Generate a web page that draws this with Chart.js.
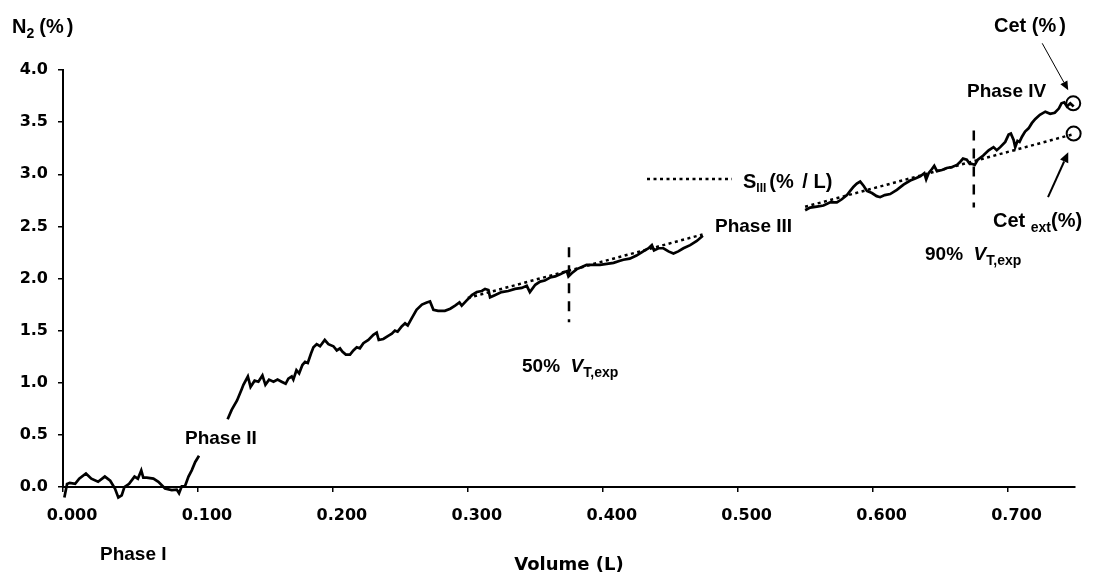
<!DOCTYPE html>
<html>
<head>
<meta charset="utf-8">
<script src="https://cdn.jsdelivr.net/npm/chart.js@4.4.1/dist/chart.umd.min.js"></script>
<style>
  html, body { margin: 0; padding: 0; background: #fff; }
  #wrap { width: 1094px; height: 578px; }
</style>
</head>
<body>
<div id="wrap"><canvas id="c" width="1094" height="578"></canvas></div>
<script>
// ---- Data (Volume in L, N2 in %) ----
const volumeL = [
  0.001,0.003,0.005,0.009,0.012,0.017,0.021,0.026,0.031,0.035,0.0385,0.041,0.0435,0.0455,0.049,0.053,0.0555,0.058,0.0595,0.062,
  0.067,0.0707,0.0756,0.0806,0.0843,0.086,0.088,0.0904,0.093,0.0954,0.098,0.1008,
  null,
  0.122,0.125,0.129,0.1325,0.1337,0.137,0.139,0.142,0.1448,0.1478,0.150,0.1527,0.156,0.159,0.162,0.165,0.167,0.1695,0.1707,0.173,
  0.175,0.1774,0.1794,0.1814,0.1838,0.1856,0.188,0.1905,0.194,0.1967,0.2004,0.2029,0.2053,0.207,0.2096,0.2127,0.2152,0.2177,0.220,
  0.2226,0.2263,0.230,0.2325,0.234,0.2374,0.241,0.2437,0.246,0.248,0.251,0.2535,0.2555,0.2585,0.262,0.266,0.2696,0.272,0.2745,
  0.278,0.283,0.287,0.2906,0.2938,0.2955,0.2992,0.303,0.3067,0.3104,0.3128,0.3153,0.3165,0.320,0.325,0.330,0.335,0.340,0.3437,
  0.346,0.350,0.3536,0.357,0.361,0.3647,0.3684,0.3714,0.3734,0.3746,0.377,0.3808,0.3845,0.388,0.393,0.398,0.403,0.408,0.4128,
  0.4153,0.420,0.425,0.430,0.434,0.4364,0.438,0.4413,0.445,0.4487,0.4524,0.456,0.4598,0.4648,0.4697,0.4742,
  null,
  0.550,0.5537,0.5587,0.5636,0.5686,0.5735,0.5772,0.581,0.5834,0.5859,0.5883,0.5908,0.5933,0.5958,0.5995,0.603,0.6056,0.609,
  0.613,0.618,0.6229,0.6279,0.6316,0.6353,0.6383,0.6397,0.6415,0.644,0.6457,0.6477,0.6514,0.655,0.659,0.6625,0.665,0.667,
  0.6698,0.672,0.6733,0.6757,0.678,0.682,0.686,0.6896,0.692,0.6946,0.6983,0.7008,0.7025,0.7045,0.7057,0.7074,0.7089,0.7107,
  0.713,0.7156,0.718,0.7206,0.724,0.728,0.7316,0.735,0.738,0.740,0.742,0.744,0.7465,0.749
];
const n2Pct = [
  -0.10,0.03,0.04,0.03,0.08,0.13,0.08,0.05,0.10,0.06,-0.015,-0.10,-0.08,0.0,0.03,0.10,0.08,0.16,0.09,0.09,
  0.08,0.05,-0.015,-0.03,-0.025,-0.06,0.007,0.007,0.10,0.16,0.24,0.30,
  null,
  0.65,0.74,0.83,0.94,0.98,1.06,0.96,1.02,1.01,1.07,0.98,1.03,1.01,1.03,1.01,0.99,1.04,1.06,1.03,1.12,
  1.09,1.17,1.20,1.19,1.28,1.34,1.37,1.35,1.41,1.37,1.35,1.31,1.33,1.30,1.27,1.27,1.31,1.34,1.33,
  1.38,1.41,1.46,1.48,1.41,1.42,1.45,1.47,1.50,1.49,1.54,1.57,1.55,1.62,1.70,1.75,1.77,1.78,1.70,
  1.69,1.69,1.71,1.74,1.77,1.74,1.79,1.84,1.87,1.88,1.90,1.89,1.82,1.84,1.87,1.88,1.90,1.91,1.93,
  1.87,1.94,1.97,1.98,2.01,2.02,2.04,2.06,2.07,2.02,2.05,2.09,2.11,2.13,2.13,2.13,2.14,2.15,2.17,
  2.18,2.19,2.22,2.26,2.29,2.32,2.27,2.29,2.29,2.26,2.24,2.26,2.29,2.32,2.36,2.41,
  null,
  2.655,2.68,2.69,2.70,2.73,2.73,2.76,2.80,2.84,2.88,2.91,2.93,2.89,2.84,2.82,2.79,2.78,2.80,
  2.81,2.85,2.90,2.94,2.96,2.98,3.01,2.95,3.01,3.05,3.08,3.03,3.04,3.06,3.07,3.09,3.12,3.15,
  3.14,3.10,3.10,3.09,3.14,3.18,3.23,3.26,3.23,3.26,3.31,3.38,3.39,3.33,3.26,3.32,3.31,3.36,
  3.41,3.44,3.49,3.53,3.57,3.60,3.58,3.59,3.63,3.68,3.69,3.65,3.68,3.65
];
// Phase III regression line (S_III), hidden behind the "Phase III" label
const slopeLineVol = [0.300, 0.474, null, 0.550, 0.749];
const slopeLineN2  = [1.813, 2.422, null, 2.688, 3.385];
// 50% and 90% of expired tidal volume markers
const vt50Vol = [0.375, 0.375]; const vt50N2 = [2.30, 1.58];
const vt90Vol = [0.675, 0.675]; const vt90N2 = [3.42, 2.68];
// End-tidal concentration markers
const cetVol = [0.7487]; const cetN2 = [3.68];
const cetExtVol = [0.749]; const cetExtN2 = [3.39];
// Axis ticks
const xTickStep = 0.1, xMax = 0.75;
const yTickStep = 0.5, yMax = 4.0;

const pts = (xs, ys) => xs.map((v, i) => ({ x: v, y: ys[i] }));

const FONT = '"Liberation Sans", Arial, sans-serif';
function rich(ctx, x, y, parts) {
  let cx = x;
  for (const p of parts) {
    ctx.font = (p.it ? 'italic ' : '') + (p.w || 'bold') + ' ' + p.s + 'px ' + FONT;
    ctx.fillText(p.t, cx, y + (p.dy || 0));
    cx += ctx.measureText(p.t).width + (p.gap || 0);
  }
}
function arrow(ctx, x1, y1, x2, y2, lw, hl, hw) {
  const a = Math.atan2(y2 - y1, x2 - x1);
  const bx = x2 - hl * Math.cos(a), by = y2 - hl * Math.sin(a);
  ctx.lineWidth = lw;
  ctx.beginPath(); ctx.moveTo(x1, y1); ctx.lineTo(bx, by); ctx.stroke();
  ctx.beginPath();
  ctx.moveTo(x2, y2);
  ctx.lineTo(bx + hw * Math.sin(a), by - hw * Math.cos(a));
  ctx.lineTo(bx - hw * Math.sin(a), by + hw * Math.cos(a));
  ctx.closePath(); ctx.fill();
}

const annot = {
  id: 'annot',
  afterDraw(chart) {
    const ctx = chart.ctx;
    const xs = chart.scales.x, ys = chart.scales.y;
    const X = v => xs.getPixelForValue(v), Y = n => ys.getPixelForValue(n);
    ctx.save();
    ctx.fillStyle = '#000'; ctx.strokeStyle = '#000';
    ctx.textBaseline = 'alphabetic'; ctx.textAlign = 'left';
    // y axis title
    rich(ctx, 12, 33, [{ t: 'N', s: 20 }, { t: '2', s: 14, dy: 5, gap: 5 }, { t: '(%', s: 20, gap: 3 }, { t: ')', s: 20 }]);
    // phase labels
    rich(ctx, 100, 560, [{ t: 'Phase I', s: 19 }]);
    rich(ctx, 185, 444, [{ t: 'Phase II', s: 19 }]);
    rich(ctx, 715, 232, [{ t: 'Phase III', s: 19 }]);
    rich(ctx, 967, 97, [{ t: 'Phase IV', s: 19 }]);
    // Cet labels
    rich(ctx, 994, 32, [{ t: 'Cet (%', s: 20, gap: 3 }, { t: ')', s: 20 }]);
    rich(ctx, 993, 227, [{ t: 'Cet ', s: 20 }, { t: 'ext', s: 14, dy: 5 }, { t: '(%)', s: 20 }]);
    // S_III legend
    rich(ctx, 743, 188, [{ t: 'S', s: 20 }, { t: 'III', s: 12, dy: 4, gap: 3 }, { t: '(% ', s: 20, gap: 3 }, { t: '/ L)', s: 20 }]);
    ctx.save();
    ctx.lineWidth = 2.5; ctx.setLineDash([3, 3.5]);
    ctx.beginPath(); ctx.moveTo(647, 179); ctx.lineTo(732, 179); ctx.stroke();
    ctx.restore();
    // VT labels
    rich(ctx, 522, 372, [{ t: '50%  ', s: 19 }, { t: 'V', s: 19, it: true }, { t: 'T,exp', s: 14, dy: 5 }]);
    rich(ctx, 925, 260, [{ t: '90%  ', s: 19 }, { t: 'V', s: 19, it: true }, { t: 'T,exp', s: 14, dy: 5 }]);
    // arrows (data coordinates)
    arrow(ctx, X(0.7257), Y(4.256), X(0.745), Y(3.806), 1, 9, 4);
    arrow(ctx, X(0.730), Y(2.78), X(0.745), Y(3.21), 2, 10, 4.5);
    ctx.restore();
  }
};

new Chart(document.getElementById('c'), {
  type: 'scatter',
  data: {
    datasets: [
      { data: pts(slopeLineVol, slopeLineN2), showLine: true, borderColor: '#000', borderWidth: 2.5,
        borderDash: [3, 3.5], pointRadius: 0, spanGaps: false, order: 0 },
      { data: pts(cetVol, cetN2), pointRadius: 7, pointBorderWidth: 2, pointBorderColor: '#000',
        pointBackgroundColor: 'rgba(0,0,0,0)', order: 0, clip: false },
      { data: pts(cetExtVol, cetExtN2), pointRadius: 7, pointBorderWidth: 2, pointBorderColor: '#000',
        pointBackgroundColor: 'rgba(0,0,0,0)', order: 0, clip: false },
      { data: pts(vt50Vol, vt50N2), showLine: true, borderColor: '#000', borderWidth: 2.5,
        borderDash: [10, 8], pointRadius: 0, order: 1 },
      { data: pts(vt90Vol, vt90N2), showLine: true, borderColor: '#000', borderWidth: 2.5,
        borderDash: [10, 8], pointRadius: 0, order: 1 },
      { data: pts(volumeL, n2Pct), showLine: true, borderColor: '#000', borderWidth: 2.7,
        pointRadius: 0, spanGaps: false, tension: 0, clip: false, order: 2 }
    ]
  },
  options: {
    responsive: false,
    animation: false,
    events: [],
    layout: { padding: { top: 70, right: 19, left: 0, bottom: 0 } },
    plugins: { legend: { display: false }, tooltip: { enabled: false } },
    scales: {
      x: {
        type: 'linear', min: 0, max: xMax, position: 'bottom',
        ticks: { stepSize: xTickStep, includeBounds: false, callback: v => Number(v).toFixed(3),
          font: { family: 'DejaVu Sans', weight: 'bold', size: 16 }, color: '#000',
          padding: 14, labelOffset: 9, maxRotation: 0, autoSkip: false },
        grid: { drawOnChartArea: false, drawTicks: true, tickLength: 5, color: '#000', lineWidth: 1.5 },
        border: { display: true, color: '#000', width: 2 },
        title: { display: true, text: 'Volume (L)', color: '#000',
          font: { family: 'DejaVu Sans', weight: 'bold', size: 18 }, padding: { top: 0, bottom: 2 } },
        afterFit: s => { s.height = 91; }
      },
      y: {
        type: 'linear', min: 0, max: yMax,
        ticks: { stepSize: yTickStep, callback: v => Number(v).toFixed(1),
          font: { family: 'DejaVu Sans', weight: 'bold', size: 16 }, color: '#000', padding: 10 },
        grid: { drawOnChartArea: false, drawTicks: true, tickLength: 5, color: '#000', lineWidth: 1.5 },
        border: { display: true, color: '#000', width: 2 },
        afterFit: s => { s.width = 63; }
      }
    }
  },
  plugins: [annot]
});
</script>
</body>
</html>
